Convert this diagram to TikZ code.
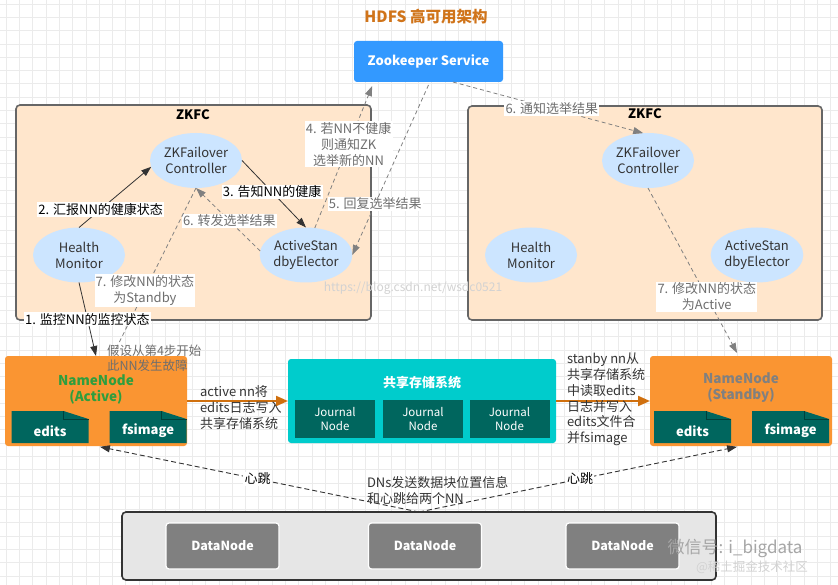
\documentclass[tikz,border=0pt]{standalone}
\usepackage{fontspec}
\setmainfont{Noto Sans CJK SC}
\usetikzlibrary{arrows.meta,shapes.geometric,calc}
\definecolor{gridc}{HTML}{EBEBEB}
\definecolor{titlec}{HTML}{D0741A}
\definecolor{zkblue}{HTML}{3399FF}
\definecolor{peach}{HTML}{FFE6CC}
\definecolor{boxborder}{HTML}{666666}
\definecolor{ellfill}{HTML}{CCE5FF}
\definecolor{txtc}{HTML}{333333}
\definecolor{nnorange}{HTML}{FA9532}
\definecolor{darkteal}{HTML}{00665E}
\definecolor{foldc}{HTML}{003F3A}
\definecolor{cyanbox}{HTML}{00CCCC}
\definecolor{nngreen}{HTML}{2E9E3E}
\definecolor{nngray}{HTML}{808080}
\definecolor{dnfill}{HTML}{E6E6E6}
\definecolor{dngray}{HTML}{808080}
\definecolor{arrorange}{HTML}{D0700E}
\definecolor{graytxt}{HTML}{6E6E6E}
\definecolor{wmark}{HTML}{D2D2D2}
\tikzset{
  every node/.style={font=\fontsize{13}{16}\selectfont, inner sep=0pt, outer sep=0pt},
  zkfcbox/.style={fill=peach, draw=boxborder, line width=1.6pt, rounded corners=4pt},
  ellip/.style={ellipse, fill=ellfill, minimum width=92pt, minimum height=55pt, text=txtc, align=center},
  nnbox/.style={fill=nnorange, rounded corners=3pt, minimum width=182pt, minimum height=90pt},
  noteb/.style={minimum width=77pt, minimum height=32pt},
  jbox/.style={fill=darkteal, minimum width=80pt, minimum height=38pt, text=white, align=center, font=\fontsize{11.5}{14.5}\selectfont},
  dnbox/.style={fill=dngray, draw=white, line width=1.2pt, rounded corners=3pt, minimum width=113pt, minimum height=46pt, text=white, font=\fontsize{12.5}{15}\selectfont\bfseries},
  lbl/.style={fill=white, inner sep=1.2pt, align=center},
  glbl/.style={lbl, text=graytxt},
  solidarr/.style={draw=txtc, line width=0.8pt, -{Triangle[length=10pt,width=7pt]}},
  dasharr/.style={draw=nngray, line width=0.8pt, dash pattern=on 4pt off 3pt, -{Triangle[length=10pt,width=7pt]}},
  dashline/.style={draw=nngray, line width=0.8pt, dash pattern=on 4pt off 3pt},
  hbarr/.style={draw=txtc, line width=0.9pt, dash pattern=on 5pt off 3pt, -{Triangle[length=10pt,width=7pt]}},
  orarr/.style={draw=arrorange, line width=2pt, -{Triangle[length=12pt,width=10pt]}}
}
\newcommand{\mynote}[3]{%
  \node[noteb] (#1) at (#2) {};
  \fill[darkteal] (#1.south west) -- (#1.north west) -- ([xshift=-25pt]#1.north east) -- ([yshift=-8pt]#1.north east) -- (#1.south east) -- cycle;
  \draw[foldc, line width=0.6pt] ([xshift=-25pt]#1.north east) -- ([xshift=-25pt,yshift=-8pt]#1.north east) -- ([yshift=-8pt]#1.north east);
  \node[text=white, font=\fontsize{13}{15}\selectfont\bfseries] at ([yshift=-4pt]#1.center) {#3};
}
\begin{document}
\begin{tikzpicture}[x=1pt,y=-1pt]
\useasboundingbox (0,0) rectangle (838,585);
\fill[white] (0,0) rectangle (838,585);
\foreach \i in {0,...,63}{\draw[gridc,line width=0.6pt] (\i*13.3+6,0) -- (\i*13.3+6,585);}
\foreach \j in {0,...,44}{\draw[gridc,line width=0.6pt] (0,\j*13.3+4) -- (838,\j*13.3+4);}

% title
\node[font=\fontsize{15.5}{18}\selectfont\bfseries, text=titlec] (title) at (426,17) {HDFS 高可用架构};

% zookeeper
\node[fill=zkblue, rounded corners=3pt, minimum width=149pt, minimum height=41pt, text=white, font=\fontsize{13}{15}\selectfont\bfseries] (zk) at (428.5,61.5) {Zookeeper Service};

% ZKFC boxes
\node[zkfcbox, minimum width=355pt, minimum height=215pt] (zkfcL) at (193.5,212.5) {};
\node[font=\fontsize{13}{15}\selectfont\bfseries] (zkfcLt) at (193,115) {ZKFC};
\node[zkfcbox, minimum width=354pt, minimum height=214pt] (zkfcR) at (645,213) {};
\node[font=\fontsize{13}{15}\selectfont\bfseries] (zkfcRt) at (645,114) {ZKFC};

% watermark mid
\node[text=wmark, font=\fontsize{12}{14}\selectfont] (wm1) at (413,288) {https://blog.csdn.net/wsdc0521};

% ellipses
\node[ellip] (zkfL) at (196,160.5) {ZKFailover\\Controller};
\node[ellip] (hmL) at (79,255) {Health\\Monitor};
\node[ellip] (aseL) at (306,255) {ActiveStan\\dbyElector};
\node[ellip] (zkfR) at (648,160.5) {ZKFailover\\Controller};
\node[ellip] (hmR) at (531,255) {Health\\Monitor};
\node[ellip] (aseR) at (757,255) {ActiveStan\\dbyElector};

% NameNodes
\node[nnbox] (nnA) at (96,401) {};
\node[text=nngreen, align=center, font=\fontsize{13.5}{16}\selectfont\bfseries] (nnAt) at (96,389) {NameNode\\(Active)};
\mynote{editsA}{50,427}{edits}
\mynote{fsA}{148,427}{fsimage}

\node[nnbox] (nnS) at (741,401) {};
\node[text=nngray, align=center, font=\fontsize{13.5}{16}\selectfont\bfseries] (nnSt) at (741,388) {NameNode\\(Standby)};
\mynote{editsS}{692.5,427}{edits}
\mynote{fsS}{790.5,427}{fsimage}

% shared storage
\node[fill=cyanbox, rounded corners=3pt, minimum width=268pt, minimum height=84pt] (shared) at (422,401) {};
\node[text=white, font=\fontsize{13}{15}\selectfont\bfseries] (sharedt) at (422,383) {共享存储系统};
\node[jbox] (j1) at (335,419) {Journal\\Node};
\node[jbox] (j2) at (423,419) {Journal\\Node};
\node[jbox] (j3) at (509.5,419) {Journal\\Node};

% DataNodes
\node[fill=dnfill, draw=txtc, line width=1.6pt, rounded corners=4pt, minimum width=594pt, minimum height=68pt] (dn) at (419,546) {};
\node[dnbox] (dn1) at (222.5,546) {DataNode};
\node[dnbox] (dn2) at (425,546) {DataNode};
\node[dnbox] (dn3) at (622.5,546) {DataNode};

% ZKFC left connectors
\draw[solidarr] (hmL.south) -- node[lbl, pos=0.5] {1. 监控NN的监控状态} (nnA.north);
\draw[solidarr] (hmL.north) -- node[lbl, pos=0.3] {2. 汇报NN的健康状态} (zkfL.188);
\draw[solidarr] (zkfL.east) -- node[lbl, pos=0.47] {3. 告知NN的健康} (aseL.north);
\draw[dasharr] (aseL.72) -- node[glbl, pos=0.59] {4. 若NN不健康\\则通知ZK\\选举新的NN} ([yshift=-4pt]zk.200);
\draw[dasharr] ([yshift=-3pt]zk.south) -- node[glbl, pos=0.7] {5. 回复选举结果} (aseL.east);
\draw[dasharr] (aseL.175) -- node[glbl, pos=0.48] {6. 转发选举结果} (zkfL.south);
\draw[dashline] (zkfL.south) -- node[glbl, pos=0.61] {7. 修改NN的状态\\为Standby} (nnA.70);

% right side connectors
\draw[dasharr] (zk.-40) -- node[glbl, pos=0.52] {6. 通知选举结果} (zkfR.100);
\draw[dasharr] (zkfR.south) -- node[glbl, pos=0.66] {7. 修改NN的状态\\为Active} ([yshift=3pt]nnS.95);

% fault note
\node[anchor=west, align=left, text=graytxt, font=\fontsize{12.5}{15}\selectfont] (fault) at (107,358) {假设从第4步开始\\此NN发生故障};

% edits flow
\draw[orarr] (nnA.east) -- (shared.west);
\draw[orarr] (shared.east) -- (nnS.west);
\node[anchor=west, align=left, text=txtc] (wr) at (200,408) {active nn将\\edits日志写入\\共享存储系统};
\node[anchor=west, align=left, text=txtc, font=\fontsize{13}{15.8}\selectfont] (rd) at (567,399.5) {stanby nn从\\共享存储系统\\中读取edits\\日志并写入\\edits文件合\\并fsimage};

% heartbeats
\draw[hbarr, shorten >=4pt] (dn.north) -- node[lbl, pos=0.5] {心跳} (nnA.south);
\draw[hbarr, shorten >=4pt] (dn.north) -- node[lbl, pos=0.5] {心跳} (nnS.south);
\node[anchor=west, align=left, text=txtc] (dns) at (367,491) {DNs发送数据块位置信息\\和心跳给两个NN};

% bottom-right watermark
\node[text=nngray!70, font=\fontsize{17}{19}\selectfont] (wm2) at (735,548) {微信号: i\_bigdata};
\node[text=wmark, font=\fontsize{12.5}{14}\selectfont] (wm3) at (752,567) {@稀土掘金技术社区};
\end{tikzpicture}
\end{document}
